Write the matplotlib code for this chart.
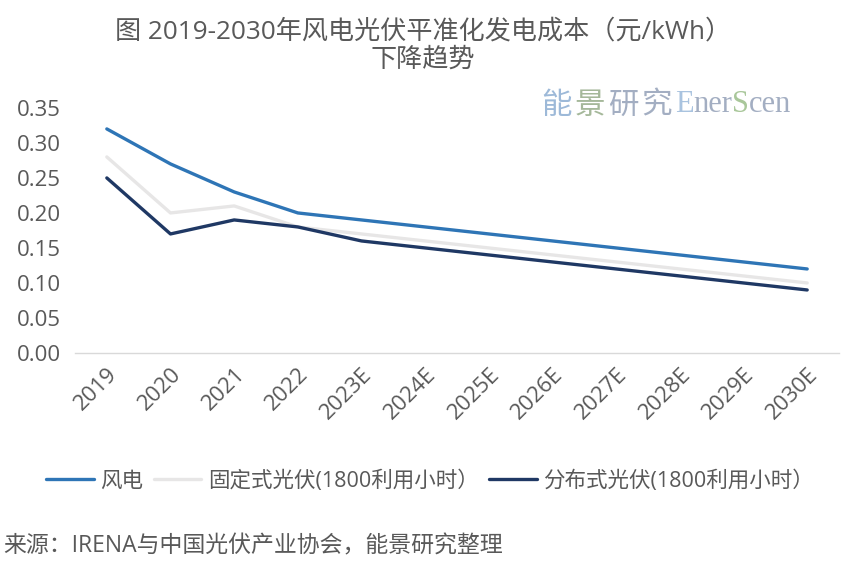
import matplotlib
matplotlib.use("Agg")
import matplotlib.pyplot as plt

plt.rcParams['font.family'] = ['Open Sans', 'Noto Sans CJK SC', 'DejaVu Sans']

years = ['2019', '2020', '2021', '2022', '2023E', '2024E', '2025E', '2026E',
         '2027E', '2028E', '2029E', '2030E']
wind = [0.32, 0.27, 0.23, 0.20, 0.19, 0.18, 0.17, 0.16, 0.15, 0.14, 0.13, 0.12]
pv_fixed = [0.28, 0.20, 0.21, 0.18, 0.17, 0.16, 0.15, 0.14, 0.13, 0.12, 0.11, 0.10]
pv_dist = [0.25, 0.17, 0.19, 0.18, 0.16, 0.15, 0.14, 0.13, 0.12, 0.11, 0.10, 0.09]
yticks = [0.00, 0.05, 0.10, 0.15, 0.20, 0.25, 0.30, 0.35]

grey = '#595959'

fig = plt.figure(figsize=(8.6, 5.78), dpi=100)
ax = fig.add_axes([0.0872, 0.3893, 0.8884, 0.424])

x = list(range(len(years)))
ax.plot(x, wind, color='#2E75B6', lw=2.4, label='风电', solid_capstyle='round')
ax.plot(x, pv_fixed, color='#E7E6E6', lw=2.4, label='固定式光伏(1800利用小时）', solid_capstyle='round')
ax.plot(x, pv_dist, color='#1F3864', lw=2.4, label='分布式光伏(1800利用小时）', solid_capstyle='round')

ax.set_xlim(-0.5, len(years) - 0.5)
ax.set_ylim(0, 0.35)
ax.set_yticks(yticks)
ax.set_yticklabels([f'{v:.2f}' for v in yticks], color=grey, fontsize=16)
ax.set_xticks(x)
ax.set_xticklabels(years, rotation=45, ha='right', rotation_mode='anchor',
                   color=grey, fontsize=16)
ax.tick_params(axis='y', length=0, pad=10)
ax.tick_params(axis='x', length=0, pad=8)
for s in ['top', 'right', 'left']:
    ax.spines[s].set_visible(False)
ax.spines['bottom'].set_color('#D9D9D9')
ax.spines['bottom'].set_linewidth(1)

fig.text(0.492, 0.92, '图 2019-2030年风电光伏平准化发电成本（元/kWh）\n下降趋势',
         ha='center', va='center', color=grey, fontsize=18.8, linespacing=1.2)

leg = fig.legend(loc='center', bbox_to_anchor=(0.5, 0.168), ncol=3, frameon=False,
                 fontsize=15.5, handlelength=2.2, handletextpad=0.3, columnspacing=0.5)
for t in leg.get_texts():
    t.set_color(grey)

fig.text(0.004, 0.055, '来源：IRENA与中国光伏产业协会，能景研究整理', color=grey,
         fontsize=16.5, ha='left', va='center')

# watermark, drawn piece by piece
pieces = [('能', '#9DB9D8', 'cjk'), ('景', '#A5B89A', 'cjk'), ('研', '#A3AEC2', 'cjk'),
          ('究', '#A3AEC2', 'cjk'), ('E', '#A9C3DF', 'lat'), ('ner', '#A3AEC2', 'lat'),
          ('S', '#A9C79A', 'lat'), ('cen', '#A3AEC2', 'lat')]
fig.canvas.draw()
renderer = fig.canvas.get_renderer()
xpos = 541
for txt, col, kind in pieces:
    fam = ['Noto Sans CJK SC'] if kind == 'cjk' else ['Liberation Serif']
    t = fig.text(xpos / 860, 1 - 105 / 578, txt, color=col, fontsize=22,
                 family=fam, ha='left', va='center')
    bb = t.get_window_extent(renderer)
    xpos += bb.width + (3 if kind == 'cjk' else 0)

fig.savefig('out.png', dpi=100)
